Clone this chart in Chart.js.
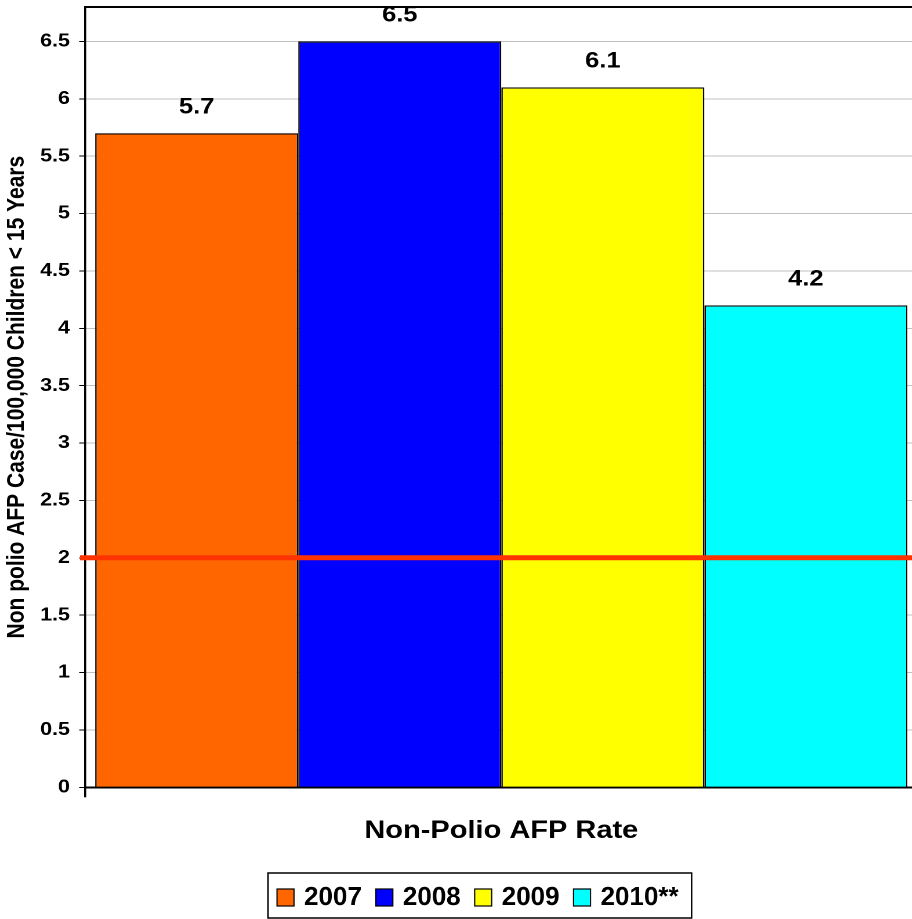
<!DOCTYPE html>
<html>
<head>
<meta charset="utf-8">
<script src="https://cdn.jsdelivr.net/npm/chart.js@4"></script>
<style>
  html, body { margin: 0; padding: 0; background: #fff; overflow: hidden; }
  /* the original picture is stretched sideways, so the whole chart is too */
  #wrap { width: 791px; height: 919px; transform: scaleX(1.16); transform-origin: 0 0; }
  #chart { width: 791px; height: 919px; }
</style>
</head>
<body>
<div id="wrap"><canvas id="chart" width="791" height="919"></canvas></div>
<script>
// data
const categories = ['Non-Polio AFP Rate'];
const years = ['2007', '2008', '2009', '2010**'];
const rates = [5.7, 6.5, 6.1, 4.2];
const barColors = ['#FF6600', '#0000FF', '#FFFF00', '#00FFFF'];
const target = 2;          // red reference line
const yMin = 0, yMax = 6.8, yStep = 0.5;

const S = 1.16;            // horizontal stretch of the wrapper
const FONT = '"Liberation Sans", Arial, sans-serif';
Chart.defaults.font.family = FONT;
Chart.defaults.color = '#000';

const extras = {
    id: 'extras',
    afterDatasetsDraw(chart) {
        const { ctx, chartArea: a, scales: { y } } = chart;
        ctx.save();
        // target line
        const ty = y.getPixelForValue(target);
        ctx.strokeStyle = '#FF3300';
        ctx.lineWidth = 5;
        ctx.beginPath();
        ctx.moveTo(a.left - 5 / S, ty);
        ctx.lineTo(a.right, ty);
        ctx.stroke();
        // top frame line
        ctx.strokeStyle = '#000';
        ctx.lineWidth = 2;
        ctx.beginPath();
        ctx.moveTo(a.left, a.top);
        ctx.lineTo(a.right, a.top);
        ctx.stroke();
        // value labels
        ctx.font = 'bold 22px ' + FONT;
        ctx.fillStyle = '#000';
        ctx.textAlign = 'center';
        ctx.textBaseline = 'middle';
        chart.data.datasets.forEach((ds, i) => {
            const bar = chart.getDatasetMeta(i).data[0];
            ctx.fillText(ds.data[0].toFixed(1), bar.x, bar.y - 26);
        });
        ctx.restore();
    },
    afterDraw(chart) {
        // legend, drawn unstretched
        const ctx = chart.ctx;
        ctx.save();
        ctx.scale(1 / S, 1);
        ctx.font = 'bold 26px ' + FONT;
        ctx.textBaseline = 'middle';
        const left = 268, top = 873, h = 45;
        let x = left + 9;
        const items = chart.data.datasets.map(ds => {
            const it = { x: x, label: ds.label, color: ds.backgroundColor };
            x += 27 + ctx.measureText(ds.label).width + 14;
            return it;
        });
        const right = x - 14 + 13;
        ctx.fillStyle = '#fff';
        ctx.fillRect(left, top, right - left, h);
        ctx.strokeStyle = '#000';
        ctx.lineWidth = 1.5;
        ctx.strokeRect(left, top, right - left, h);
        items.forEach(it => {
            ctx.fillStyle = it.color;
            ctx.fillRect(it.x, top + 16, 17, 17);
            ctx.lineWidth = 1.2;
            ctx.strokeRect(it.x, top + 16, 17, 17);
            ctx.fillStyle = '#000';
            ctx.fillText(it.label, it.x + 27, top + 25);
        });
        ctx.restore();
    }
};

new Chart(document.getElementById('chart'), {
    type: 'bar',
    data: {
        labels: categories,
        datasets: years.map((yr, i) => ({
            label: yr,
            data: [rates[i]],
            backgroundColor: barColors[i],
            borderColor: '#000',
            borderWidth: 1.3,
            categoryPercentage: 0.9756,
            barPercentage: 1
        }))
    },
    options: {
        responsive: false,
        devicePixelRatio: 2,
        animation: false,
        layout: { padding: { top: 7, bottom: 70, left: 0, right: 0 } },
        plugins: {
            legend: { display: false },
            tooltip: { enabled: false }
        },
        scales: {
            x: {
                grid: { display: true, drawOnChartArea: false, tickLength: 10, tickColor: '#000', lineWidth: 1.8, offset: true },
                border: { color: '#000', width: 2 },
                ticks: { display: false },
                title: {
                    display: true,
                    text: categories[0],
                    font: { size: 25, weight: 'bold', lineHeight: 1.2 },
                    padding: { top: 0, bottom: 3 }
                },
                afterFit(s) { s.height = 61.7; s.paddingLeft = 0; s.paddingRight = 0; }
            },
            y: {
                min: yMin,
                max: yMax,
                ticks: {
                    stepSize: yStep,
                    includeBounds: false,
                    padding: 8,
                    font: { size: 18.5, weight: 'bold' },
                    callback: v => String(v)
                },
                grid: { color: '#C0C0C0', lineWidth: 1, tickLength: 5, tickColor: '#000' },
                border: { color: '#000', width: 1.8 },
                title: {
                    display: true,
                    text: 'Non polio AFP Case/100,000 Children < 15 Years',
                    font: { size: 21, weight: 'bold', lineHeight: 1.2 },
                    padding: { top: 2, bottom: 0 }
                },
                afterFit(s) { s.width = 73.3; s.paddingTop = 0; s.paddingBottom = 0; }
            }
        }
    },
    plugins: [extras]
});
</script>
</body>
</html>
